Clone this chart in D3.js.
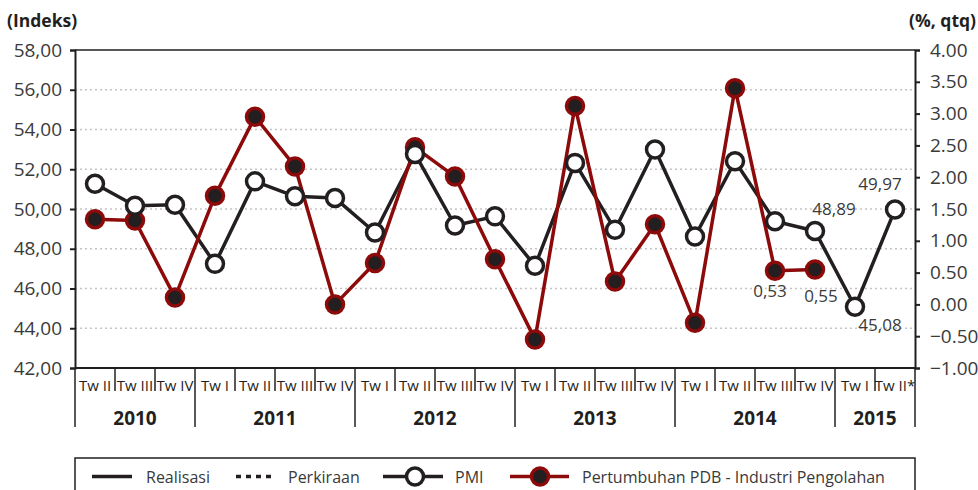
<!DOCTYPE html>
<html>
<head>
<meta charset="utf-8">
<script src="https://d3js.org/d3.v7.min.js"></script>
<style>
  body { margin: 0; background: #ffffff; font-family: "Open Sans", "Noto Sans", sans-serif; }
</style>
</head>
<body>
<div id="chart"></div>
<script>

// quarters on the x axis
var quarters = ["Tw II","Tw III","Tw IV",
  "Tw I","Tw II","Tw III","Tw IV",
  "Tw I","Tw II","Tw III","Tw IV",
  "Tw I","Tw II","Tw III","Tw IV",
  "Tw I","Tw II","Tw III","Tw IV",
  "Tw I","Tw II*"];
var years = ["2010","2011","2012","2013","2014","2015"];
var yearCounts = [3, 4, 4, 4, 4, 2];

// PMI (left axis, index)
var pmi = [51.27, 50.16, 50.21, 47.24, 51.39, 50.64, 50.55, 48.82, 52.77, 49.17, 49.63,
  47.14, 52.32, 48.96, 52.99, 48.62, 52.40, 49.38, 48.89, 45.08, 49.97];
// manufacturing GDP growth (right axis, %, qtq)
var pdb = [1.34, 1.32, 0.11, 1.71, 2.95, 2.17, 0.00, 0.65, 2.47, 2.01, 0.71,
  -0.55, 3.12, 0.36, 1.26, -0.29, 3.40, 0.53, 0.55, null, null];

var leftTicks = [42, 44, 46, 48, 50, 52, 54, 56, 58];
var rightTicks = [-1, -0.5, 0, 0.5, 1, 1.5, 2, 2.5, 3, 3.5, 4];

// value labels shown next to some points
var pmiLabels = [18, 19, 20];
var pdbLabels = [17, 18];

var width = 978, height = 490;
var pLeft = 75, pRight = 915, pTop = 50, pBottom = 368;
var dark = "#231f20", red = "#8c0a0a", textCol = "#3a3a3a";

var svg = d3.select("#chart").append("svg")
  .attr("width", width).attr("height", height);

var x = d3.scaleBand().domain(d3.range(quarters.length)).range([pLeft, pRight]).padding(0);
var cx = function(i) { return x(i) + x.bandwidth() / 2; };
var yL = d3.scaleLinear().domain([42, 58]).range([pBottom, pTop]);
var yR = d3.scaleLinear().domain([-1, 4]).range([pBottom, pTop]);

// grid lines (dotted, on left ticks)
svg.append("g").selectAll("line")
  .data(leftTicks.filter(function(d) { return d > 42 && d < 58; }))
  .enter().append("line")
    .attr("x1", pLeft).attr("x2", pRight)
    .attr("y1", function(d) { return yL(d); })
    .attr("y2", function(d) { return yL(d); })
    .attr("stroke", "#c4c4c4").attr("stroke-width", 1.5)
    .attr("stroke-dasharray", "2,3");

// top frame line
svg.append("line")
  .attr("x1", pLeft).attr("x2", pRight).attr("y1", pTop).attr("y2", pTop)
  .attr("stroke", dark).attr("stroke-width", 1.5);

// left axis
var axL = svg.append("g")
  .attr("transform", "translate(" + pLeft + ",0)")
  .call(d3.axisLeft(yL).tickValues(leftTicks).tickSize(5).tickPadding(8)
    .tickFormat(function(d) { return d3.format(".2f")(d).replace(".", ","); }));
axL.select(".domain").attr("stroke", dark).attr("stroke-width", 2);
axL.selectAll(".tick line").attr("stroke", dark).attr("stroke-width", 2);
axL.selectAll("text").attr("font-size", 19).attr("fill", textCol)
  .attr("font-family", "'Open Sans', sans-serif");

// right axis
var axR = svg.append("g")
  .attr("transform", "translate(" + pRight + ",0)")
  .call(d3.axisRight(yR).tickValues(rightTicks).tickSize(5).tickPadding(10)
    .tickFormat(d3.format(".2f")));
axR.select(".domain").attr("stroke", dark).attr("stroke-width", 2);
axR.selectAll(".tick line").attr("stroke", dark).attr("stroke-width", 2);
axR.selectAll("text").attr("font-size", 19).attr("fill", textCol)
  .attr("font-family", "'Open Sans', sans-serif");

// axis titles
svg.append("text").attr("x", 7).attr("y", 27).text("(Indeks)")
  .attr("font-size", 17.5).attr("font-weight", "bold").attr("fill", dark);
svg.append("text").attr("x", 976).attr("y", 27).attr("text-anchor", "end").text("(%, qtq)")
  .attr("font-size", 17.5).attr("font-weight", "bold").attr("fill", dark);

// bottom axis line
svg.append("line")
  .attr("x1", pLeft).attr("x2", pRight).attr("y1", pBottom).attr("y2", pBottom)
  .attr("stroke", dark).attr("stroke-width", 2);

// year boundaries
var bounds = [0];
yearCounts.forEach(function(n, k) { bounds.push(bounds[k] + n); });

// quarter ticks
svg.append("g").selectAll("line")
  .data(d3.range(quarters.length + 1))
  .enter().append("line")
    .attr("x1", function(i) { return i < quarters.length ? x(i) : pRight; })
    .attr("x2", function(i) { return i < quarters.length ? x(i) : pRight; })
    .attr("y1", pBottom)
    .attr("y2", function(i) { return bounds.indexOf(i) >= 0 ? 427 : 391; })
    .attr("stroke", dark).attr("stroke-width", 1.5);

// quarter labels
svg.append("g").selectAll("text")
  .data(quarters)
  .enter().append("text")
    .attr("x", function(d, i) { return cx(i); })
    .attr("y", 391)
    .attr("text-anchor", "middle")
    .attr("font-size", 15)
    .attr("fill", dark)
    .text(function(d) { return d; });

// year labels
svg.append("g").selectAll("text")
  .data(years)
  .enter().append("text")
    .attr("x", function(d, k) {
      var a = x(bounds[k]);
      var b = bounds[k + 1] < quarters.length ? x(bounds[k + 1]) : pRight;
      return (a + b) / 2;
    })
    .attr("y", 425)
    .attr("text-anchor", "middle")
    .attr("font-size", 19)
    .attr("font-weight", "bold")
    .attr("fill", dark)
    .text(function(d) { return d; });

// PMI line
var linePmi = d3.line()
  .x(function(d, i) { return cx(i); })
  .y(function(d) { return yL(d); });
svg.append("path").datum(pmi)
  .attr("d", linePmi)
  .attr("fill", "none").attr("stroke", dark).attr("stroke-width", 3.5)
  .attr("stroke-linejoin", "round");

// PDB line
var linePdb = d3.line()
  .defined(function(d) { return d !== null; })
  .x(function(d, i) { return cx(i); })
  .y(function(d) { return yR(d); });
svg.append("path").datum(pdb)
  .attr("d", linePdb)
  .attr("fill", "none").attr("stroke", red).attr("stroke-width", 3.5)
  .attr("stroke-linejoin", "round");

// PDB markers
svg.append("g").selectAll("circle")
  .data(pdb.map(function(v, i) { return {v: v, i: i}; }).filter(function(d) { return d.v !== null; }))
  .enter().append("circle")
    .attr("cx", function(d) { return cx(d.i); })
    .attr("cy", function(d) { return yR(d.v); })
    .attr("r", 8.5)
    .attr("fill", dark).attr("stroke", red).attr("stroke-width", 3.5);

// PMI markers
svg.append("g").selectAll("circle")
  .data(pmi)
  .enter().append("circle")
    .attr("cx", function(d, i) { return cx(i); })
    .attr("cy", function(d) { return yL(d); })
    .attr("r", 8.5)
    .attr("fill", "#ffffff").attr("stroke", dark).attr("stroke-width", 3.5);

// value labels
var pmiOff = {18: [19, -16], 19: [25, 24], 20: [-15, -20]};
var pdbOff = {17: [-5, 26], 18: [6, 33]};
var fmt = function(v) { return d3.format(".2f")(v).replace(".", ","); };
svg.append("g").selectAll("text")
  .data(pmiLabels)
  .enter().append("text")
    .attr("x", function(i) { return cx(i) + pmiOff[i][0]; })
    .attr("y", function(i) { return yL(pmi[i]) + pmiOff[i][1]; })
    .attr("text-anchor", "middle").attr("font-size", 17).attr("fill", textCol)
    .text(function(i) { return fmt(pmi[i]); });
svg.append("g").selectAll("text")
  .data(pdbLabels)
  .enter().append("text")
    .attr("x", function(i) { return cx(i) + pdbOff[i][0]; })
    .attr("y", function(i) { return yR(pdb[i]) + pdbOff[i][1]; })
    .attr("text-anchor", "middle").attr("font-size", 17).attr("fill", textCol)
    .text(function(i) { return fmt(pdb[i]); });

// legend
var lg = svg.append("g");
lg.append("rect").attr("x", 75).attr("y", 458).attr("width", 840).attr("height", 50)
  .attr("fill", "none").attr("stroke", dark).attr("stroke-width", 1.5);
var ly = 476.5;
lg.append("line").attr("x1", 92).attr("x2", 132).attr("y1", ly).attr("y2", ly)
  .attr("stroke", dark).attr("stroke-width", 3.5);
lg.append("text").attr("x", 146).attr("y", ly + 6).text("Realisasi");
lg.append("line").attr("x1", 236).attr("x2", 274).attr("y1", ly).attr("y2", ly)
  .attr("stroke", dark).attr("stroke-width", 3.5).attr("stroke-dasharray", "5,5");
lg.append("text").attr("x", 288).attr("y", ly + 6).text("Perkiraan");
lg.append("line").attr("x1", 383).attr("x2", 443).attr("y1", ly).attr("y2", ly)
  .attr("stroke", dark).attr("stroke-width", 3.5);
lg.append("circle").attr("cx", 415).attr("cy", ly).attr("r", 8.5)
  .attr("fill", "#ffffff").attr("stroke", dark).attr("stroke-width", 3.5);
lg.append("text").attr("x", 455).attr("y", ly + 6).text("PMI");
lg.append("line").attr("x1", 510).attr("x2", 569).attr("y1", ly).attr("y2", ly)
  .attr("stroke", red).attr("stroke-width", 3.5);
lg.append("circle").attr("cx", 540).attr("cy", ly).attr("r", 8.5)
  .attr("fill", dark).attr("stroke", red).attr("stroke-width", 3.5);
lg.append("text").attr("x", 582).attr("y", ly + 6).text("Pertumbuhan PDB - Industri Pengolahan");
lg.selectAll("text").attr("font-size", 16).attr("fill", textCol);

</script>
</body>
</html>
